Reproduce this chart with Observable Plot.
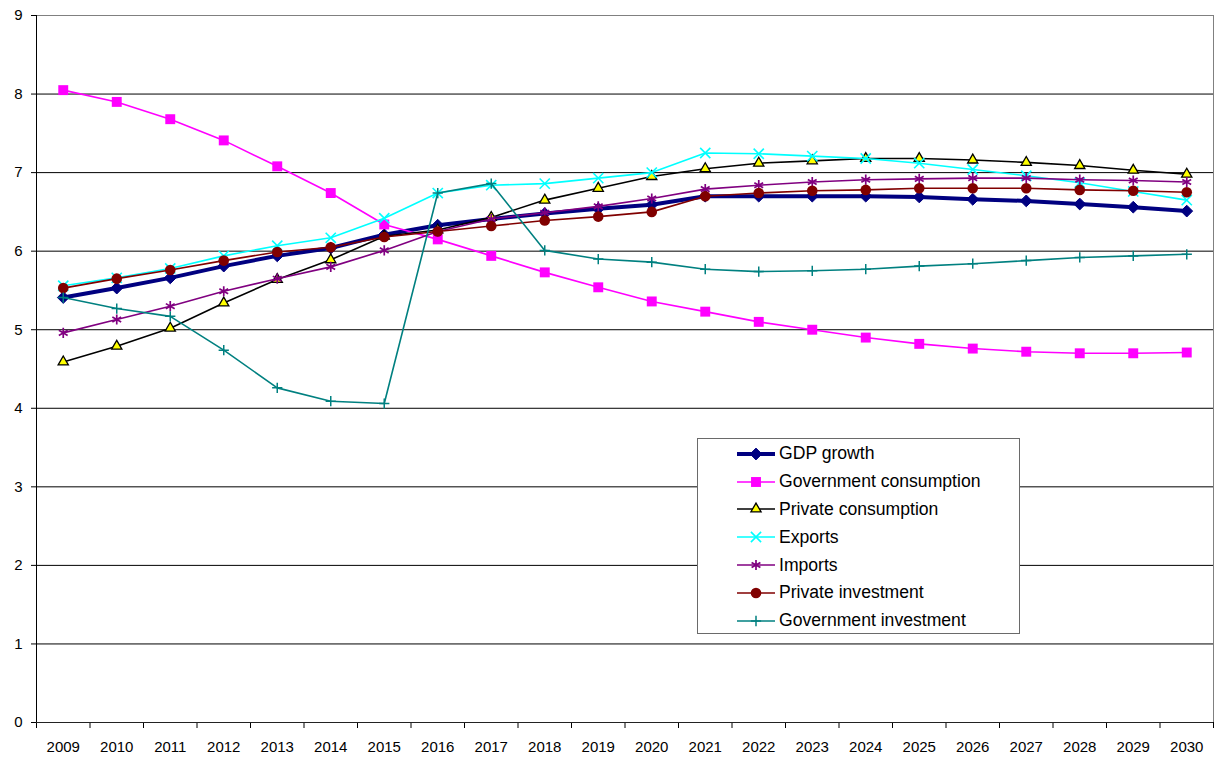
<!DOCTYPE html>
<html><head><meta charset="utf-8">
<script src="https://cdn.jsdelivr.net/npm/d3@7"></script>
<script src="https://cdn.jsdelivr.net/npm/@observablehq/plot@0.6"></script>
<style>
body{margin:0;background:#fff;font-family:"Liberation Sans",Arial,sans-serif;}
#wrap{position:relative;width:1215px;height:760px;}
#legend{position:absolute;left:697px;top:438px;width:321px;height:193px;border:1px solid #6a6a6a;background:#fff;padding-top:1px;box-sizing:content-box;}
.row{display:flex;align-items:center;height:27.8px;font-size:17.6px;color:#000;padding-left:39px;white-space:nowrap;}
.row svg{margin-right:4px;flex:none;}
</style></head><body><div id="wrap"></div>
<script>
const years = [2009,2010,2011,2012,2013,2014,2015,2016,2017,2018,2019,2020,2021,2022,2023,2024,2025,2026,2027,2028,2029,2030];
const yTicks = [0,1,2,3,4,5,6,7,8,9];
const seriesNames = ["GDP growth","Government consumption","Private consumption","Exports","Imports","Private investment","Government investment"];
const gdpGrowth   = [5.41,5.53,5.66,5.81,5.94,6.04,6.21,6.33,6.41,6.48,6.54,6.59,6.70,6.70,6.70,6.70,6.69,6.66,6.64,6.60,6.56,6.51];
const govConsumption = [8.05,7.90,7.68,7.41,7.08,6.74,6.34,6.15,5.94,5.73,5.54,5.36,5.23,5.10,5.00,4.90,4.82,4.76,4.72,4.70,4.70,4.71];
const privConsumption = [4.59,4.79,5.02,5.34,5.64,5.89,6.19,6.27,6.43,6.65,6.80,6.95,7.05,7.12,7.15,7.18,7.18,7.16,7.13,7.09,7.03,6.98];
const exportsGrowth = [5.56,5.66,5.78,5.94,6.07,6.17,6.42,6.74,6.84,6.86,6.93,7.00,7.25,7.24,7.21,7.18,7.12,7.04,6.96,6.87,6.76,6.65];
const importsGrowth = [4.96,5.13,5.30,5.49,5.65,5.80,6.01,6.25,6.41,6.49,6.57,6.67,6.79,6.84,6.88,6.91,6.92,6.93,6.93,6.91,6.90,6.88];
const privInvestment = [5.53,5.65,5.76,5.88,5.99,6.05,6.18,6.25,6.32,6.39,6.44,6.50,6.70,6.74,6.77,6.78,6.80,6.80,6.80,6.78,6.77,6.75];
const govInvestment = [5.41,5.27,5.17,4.74,4.26,4.09,4.06,6.74,6.86,6.01,5.90,5.86,5.77,5.74,5.75,5.77,5.81,5.84,5.88,5.92,5.94,5.96];

const seriesValues = [gdpGrowth, govConsumption, privConsumption, exportsGrowth, importsGrowth, privInvestment, govInvestment];

// styles (separate from data)
const styles = [
  {color:"#000080", lw:4,   symbol:"diamond2", r:5.3,  fill:"#000080", stroke:"#000080", sw:1},
  {color:"#FF00FF", lw:1.6, symbol:"square",   r:5.6,  fill:"#FF00FF", stroke:"#FF00FF", sw:0},
  {color:"#000000", lw:1.6, symbol:"triangle", r:3.8,  fill:"#FFFF00", stroke:"#000000", sw:1.3},
  {color:"#00FFFF", lw:1.6, symbol:"times",    r:4.7,  fill:"none",    stroke:"#00FFFF", sw:1.6},
  {color:"#800080", lw:1.6, symbol:"asterisk", r:4.8,  fill:"none",    stroke:"#800080", sw:1.7},
  {color:"#800000", lw:1.6, symbol:"circle",   r:5.3,  fill:"#800000", stroke:"#800000", sw:0},
  {color:"#008080", lw:1.6, symbol:"plus",     r:3.4,  fill:"none",    stroke:"#008080", sw:1.5}
];
const d3Sym = {diamond2:d3.symbolDiamond2, square:d3.symbolSquare, triangle:d3.symbolTriangle, times:d3.symbolTimes, asterisk:d3.symbolAsterisk, circle:d3.symbolCircle, plus:d3.symbolPlus};

const seriesMarks = [];
seriesNames.forEach((name, i) => {
  const data = years.map((yr, j) => ({year: yr, value: seriesValues[i][j], series: name}));
  const s = styles[i];
  seriesMarks.push(Plot.line(data, {x:"year", y:"value", stroke:s.color, strokeWidth:s.lw, strokeLinejoin:"round"}));
  seriesMarks.push(Plot.dot(data, {x:"year", y:"value", symbol:s.symbol, r:s.r, fill:s.fill, stroke:s.stroke, strokeWidth:s.sw}));
});

const boundaries = years.map(y => y - 0.5).concat([years[years.length-1] + 0.5]);
const xMin = boundaries[0], xMax = boundaries[boundaries.length-1];

const chart = Plot.plot({
  width:1215, height:760,
  marginLeft:36, marginRight:2, marginTop:15, marginBottom:38,
  x:{domain:[xMin, xMax], label:null},
  y:{domain:[0,9], label:null},
  style:{fontFamily:'"Liberation Sans", Arial, sans-serif', fontSize:"15px", color:"#000", background:"#fff", overflow:"visible"},
  marks:[
    Plot.ruleY(yTicks.filter(v => v > 0 && v < 9), {stroke:"#000", strokeWidth:1}),
    Plot.ruleY([9], {stroke:"#808080"}),
    Plot.ruleX([xMax], {stroke:"#808080"}),
    Plot.axisY({ticks:yTicks, tickSize:5, tickPadding:9, label:null, tickFormat:d=>String(d)}),
    Plot.axisX({ticks:years, tickSize:0, tickPadding:19, label:null, tickFormat:d=>String(d)}),
    Plot.axisX({ticks:boundaries, tickSize:6, label:null, tickFormat:()=>""}),
    ...seriesMarks,
    Plot.ruleX([xMin], {stroke:"#000"}),
    Plot.ruleY([0], {stroke:"#222"})
  ]
});
const wrap = document.getElementById("wrap");
wrap.appendChild(chart);

// legend
const legend = document.createElement("div");
legend.id = "legend";
seriesNames.forEach((name, i) => {
  const s = styles[i];
  const row = document.createElement("div");
  row.className = "row";
  const svg = d3.create("svg").attr("width", 38).attr("height", 20);
  svg.append("line").attr("x1",0).attr("x2",38).attr("y1",10).attr("y2",10).attr("stroke", s.color).attr("stroke-width", s.lw);
  svg.append("path").attr("transform","translate(19,10)")
    .attr("d", d3.symbol(d3Sym[s.symbol], s.r*s.r*Math.PI)())
    .attr("fill", s.fill).attr("stroke", s.sw ? s.stroke : "none").attr("stroke-width", s.sw);
  row.appendChild(svg.node());
  const t = document.createElement("span");
  t.textContent = name;
  row.appendChild(t);
  legend.appendChild(row);
});
wrap.appendChild(legend);
</script>
</body></html>
